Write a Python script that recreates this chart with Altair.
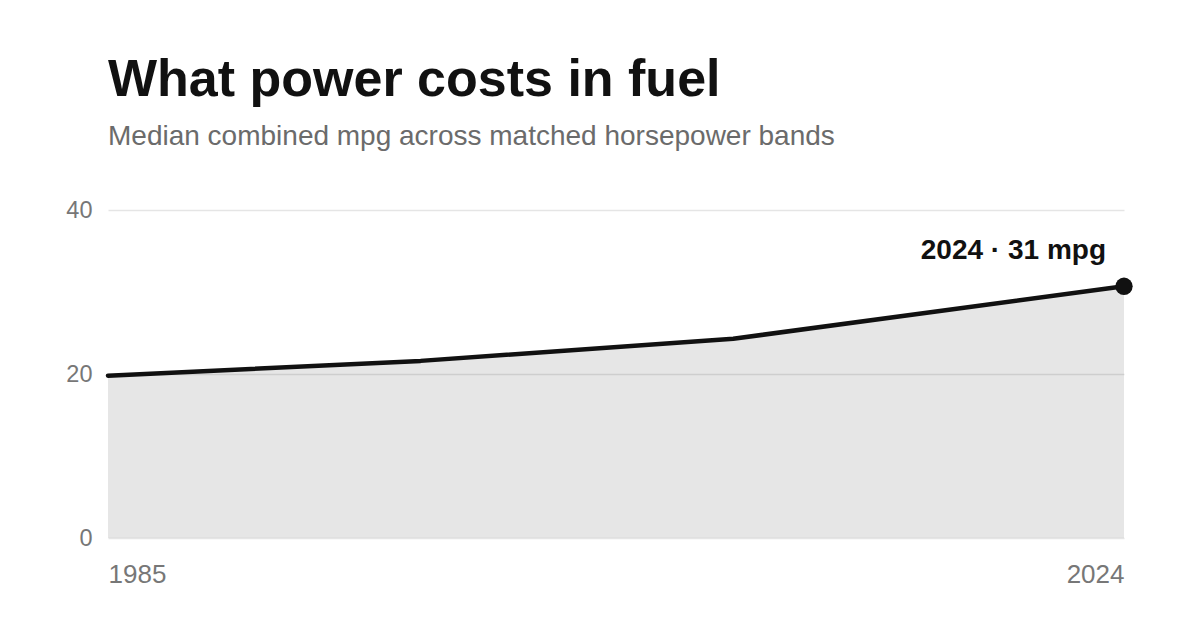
import altair as alt
import pandas as pd

years = [1985, 1997, 2009, 2024]
mpg = [19.8, 21.6, 24.3, 30.7]
end_label = ["", "", "", "2024 · 31 mpg"]

df = pd.DataFrame({"year": years, "mpg": mpg, "label": end_label})
last = df[df["year"] == 2024]

FONT = "Liberation Sans"

x = alt.X("year:Q", scale=alt.Scale(domain=[1985, 2024], nice=False, zero=False),
          axis=alt.Axis(values=[1985, 2024], format="d", grid=False, domain=False, ticks=False,
                        labelFlush=True, labelPadding=23, labelFontSize=26, labelColor="#777777",
                        labelFont=FONT, title=None))
y = alt.Y("mpg:Q", scale=alt.Scale(domain=[0, 40], nice=False),
          axis=alt.Axis(values=[0, 20, 40], grid=True, gridColor="#000000", gridOpacity=0.1,
                        gridWidth=1.5, zindex=1,
                        domain=False, ticks=False, labelPadding=16, labelFontSize=23.5,
                        labelColor="#777777", labelFont=FONT, title=None))

area = alt.Chart(df).mark_area(color="#e6e6e6").encode(x=x, y=y)
line = alt.Chart(df).mark_line(color="#111111", strokeWidth=4.5,
                               strokeCap="round", strokeJoin="round").encode(x=x, y=y)
dot = alt.Chart(last).mark_circle(color="#111111", size=300, opacity=1).encode(x=x, y=y)
text = alt.Chart(last).mark_text(align="right", baseline="middle", dx=-18, dy=-35,
                                 fontSize=28, fontWeight="bold", font=FONT,
                                 color="#111111").encode(x=x, y=y, text="label:N")

chart = alt.layer(area, line, dot, text).properties(
    width=1016, height=328,
    background="white",
    title=alt.TitleParams(
        text="What power costs in fuel",
        subtitle="Median combined mpg across matched horsepower bands",
        anchor="start", frame="group", font=FONT, fontSize=52, fontWeight="bold",
        color="#111111", subtitleFont=FONT, subtitleFontSize=28, subtitleColor="#6b6b6b",
        subtitlePadding=16, offset=46,
    ),
    autosize=alt.AutoSizeParams(type="none"),
    padding={"left": 100, "top": 202, "right": 68, "bottom": 84},
).configure_view(strokeWidth=0)

chart.save("out.html", embed_options={"renderer": "svg", "actions": False})
